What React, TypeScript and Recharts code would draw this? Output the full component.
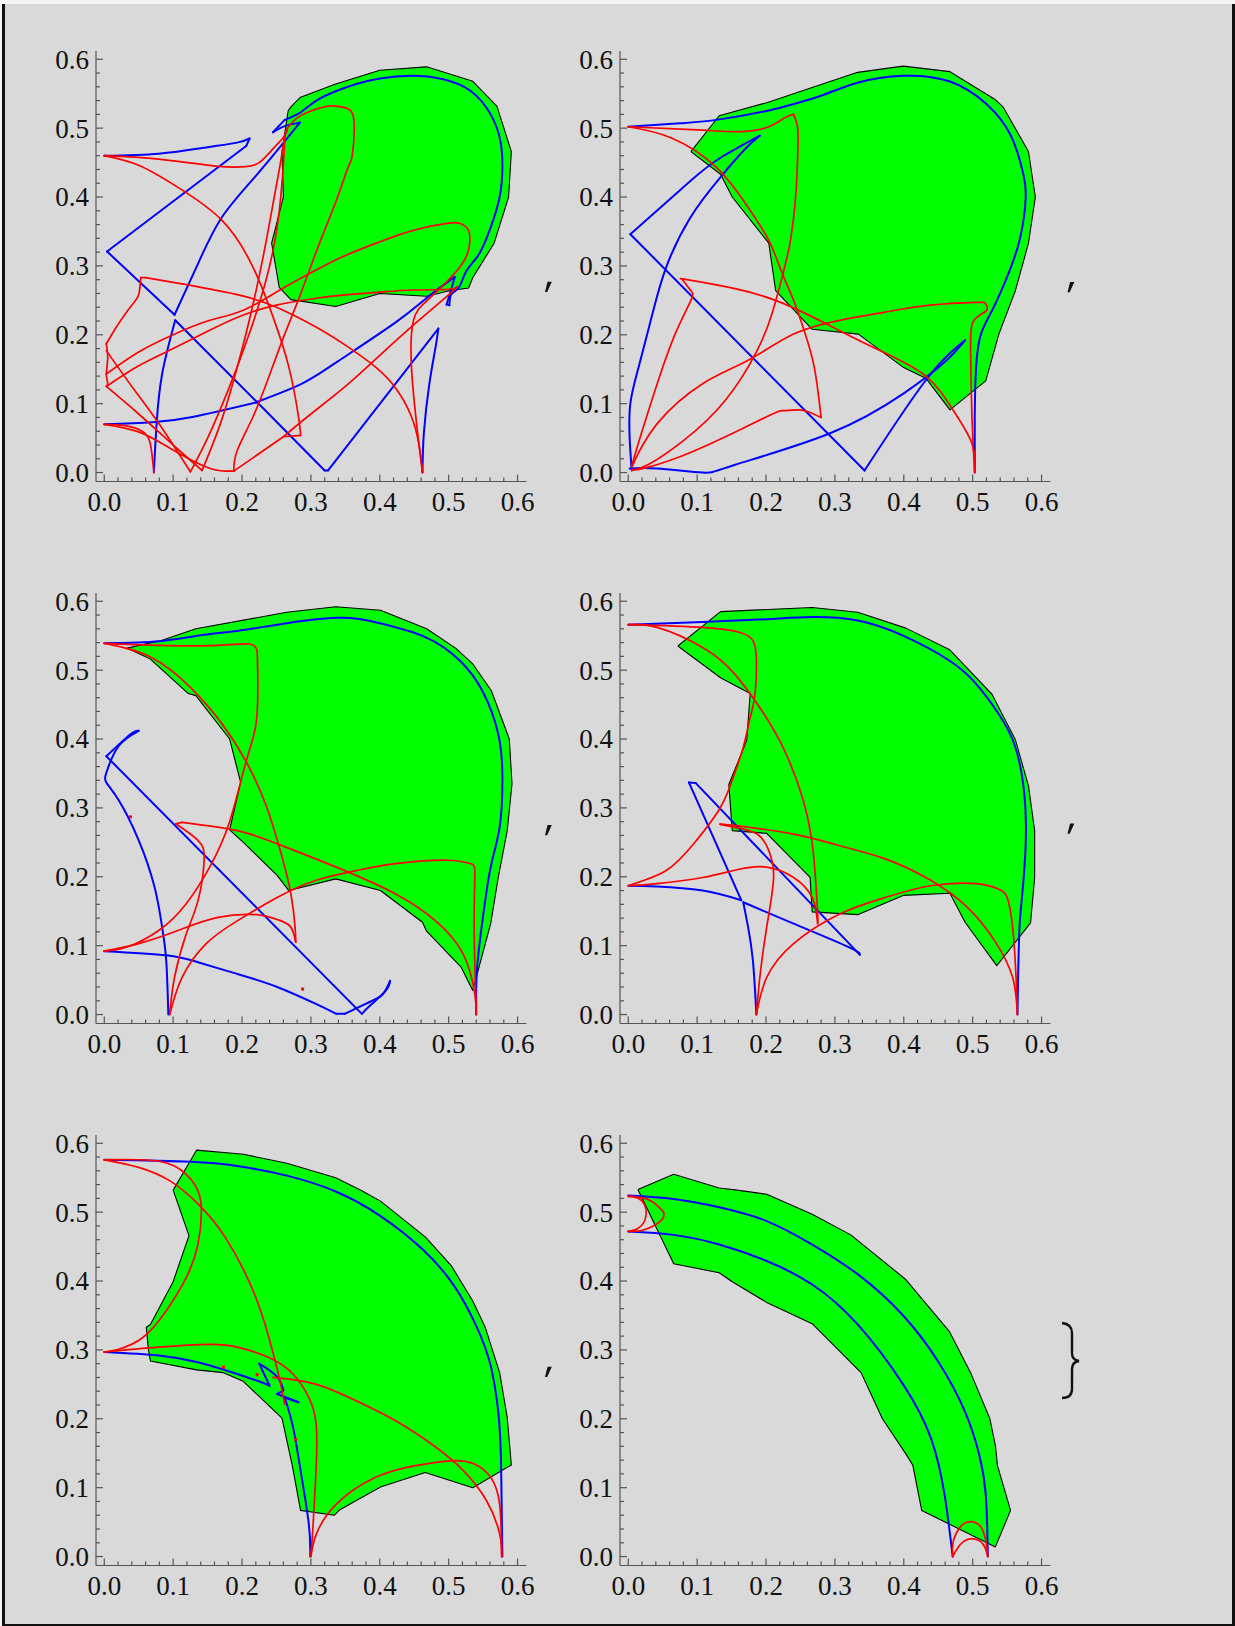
import { ScatterChart, Scatter, XAxis, YAxis } from 'recharts'

type Pt = [number, number]

// tick values (frame ticks every 0.02, labels every 0.1)
const ALL_TICKS = [
    0, 0.02, 0.04, 0.06, 0.08, 0.1, 0.12, 0.14, 0.16, 0.18, 0.2, 0.22, 0.24, 0.26, 0.28, 0.3,
    0.32, 0.34, 0.36, 0.38, 0.4, 0.42, 0.44, 0.46, 0.48, 0.5, 0.52, 0.54, 0.56, 0.58, 0.6
]
const X_DOMAIN: [number, number] = [-0.012, 0.613]
const Y_DOMAIN: [number, number] = [-0.013, 0.612]

// ---- panel 1 ----
const P1_REGION: Pt[] = [
    [0.271, 0.531], [0.285, 0.545], [0.336, 0.564], [0.4, 0.584], [0.468, 0.589], [0.535, 0.568], [0.57, 0.532],
    [0.591, 0.466], [0.587, 0.4], [0.566, 0.333], [0.535, 0.283], [0.529, 0.268], [0.501, 0.264], [0.468, 0.256],
    [0.4, 0.26], [0.336, 0.241], [0.271, 0.251], [0.254, 0.269], [0.243, 0.333], [0.26, 0.4], [0.258, 0.466],
    [0.267, 0.525], [0.271, 0.531]
]
const P1_BLUE: Pt[][] = [
    [[0, 0.46], [0.079, 0.463], [0.148, 0.472], [0.193, 0.479], [0.211, 0.485]],
    [[0.211, 0.485], [0.206, 0.474]],
    [[0.206, 0.474], [0.004, 0.321]],
    [[0.004, 0.321], [0.102, 0.229]],
    [[0.102, 0.229], [0.136, 0.303], [0.171, 0.371], [0.222, 0.433], [0.284, 0.508]],
    [[0.284, 0.508], [0.262, 0.503], [0.245, 0.494]],
    [[0.245, 0.494], [0.262, 0.512]],
    [[0.262, 0.512], [0.285, 0.523], [0.308, 0.54], [0.337, 0.554], [0.366, 0.564], [0.4, 0.572], [0.446, 0.576],
        [0.492, 0.571], [0.532, 0.554], [0.561, 0.52], [0.575, 0.482], [0.578, 0.443], [0.574, 0.4], [0.561, 0.356],
        [0.544, 0.317], [0.526, 0.293], [0.515, 0.269], [0.504, 0.259], [0.501, 0.243]],
    [[0.501, 0.243], [0.497, 0.244]],
    [[0.497, 0.244], [0.509, 0.284]],
    [[0.509, 0.284], [0.47, 0.255], [0.423, 0.218], [0.337, 0.16], [0.285, 0.128], [0.231, 0.106], [0.222, 0.102]],
    [[0.222, 0.102], [0.13, 0.081], [0.07, 0.073], [0, 0.07]],
    [[0.072, 0], [0.076, 0.071], [0.084, 0.143], [0.103, 0.221]],
    [[0.103, 0.221], [0.222, 0.102]],
    [[0.222, 0.102], [0.32, 0.003]],
    [[0.32, 0.003], [0.325, 0.003]],
    [[0.325, 0.003], [0.485, 0.209]],
    [[0.485, 0.209], [0.481, 0.182], [0.472, 0.129], [0.464, 0.057], [0.462, 0]]
]
const P1_RED: Pt[][] = [
    [[0, 0.46], [0.079, 0.455], [0.162, 0.445], [0.205, 0.444], [0.225, 0.45], [0.245, 0.47], [0.262, 0.489], [0.266, 0.5]],
    [[0, 0.46], [0.05, 0.446], [0.107, 0.414], [0.171, 0.366], [0.216, 0.298], [0.245, 0.226], [0.268, 0.153],
        [0.282, 0.081], [0.285, 0.054]],
    [[0.285, 0.054], [0.26, 0.052]],
    [[0.26, 0.052], [0.188, 0.002]],
    [[0.188, 0.002], [0.176, 0.002]],
    [[0.176, 0.002], [0.148, 0.008], [0.096, 0.035], [0.05, 0.059], [0, 0.07]],
    [[0, 0.07], [0.03, 0.068], [0.055, 0.06], [0.066, 0.045], [0.07, 0.02], [0.072, 0]],
    [[0.003, 0.187], [0.02, 0.215], [0.04, 0.243], [0.05, 0.258], [0.053, 0.283]],
    [[0.053, 0.283], [0.06, 0.283]],
    [[0.06, 0.283], [0.1, 0.276], [0.19, 0.259], [0.25, 0.24], [0.308, 0.211], [0.35, 0.185], [0.394, 0.153],
        [0.425, 0.12], [0.446, 0.081], [0.457, 0.04], [0.462, 0]],
    [[0.003, 0.125], [0.05, 0.155], [0.1, 0.18], [0.15, 0.205], [0.2, 0.228], [0.25, 0.243], [0.3, 0.252],
        [0.35, 0.258], [0.4, 0.262], [0.45, 0.265], [0.5, 0.266], [0.512, 0.27]],
    [[0.003, 0.143], [0.05, 0.175], [0.1, 0.2], [0.15, 0.22], [0.2, 0.235], [0.25, 0.262], [0.3, 0.29],
        [0.35, 0.315], [0.4, 0.335], [0.45, 0.352], [0.5, 0.362], [0.515, 0.362], [0.529, 0.351], [0.527, 0.317],
        [0.504, 0.284], [0.469, 0.25], [0.449, 0.221], [0.446, 0.153], [0.455, 0.057], [0.462, 0]],
    [[0.125, 0.001], [0.15, 0.05], [0.18, 0.12], [0.21, 0.2], [0.235, 0.28], [0.25, 0.35], [0.258, 0.42],
        [0.262, 0.48], [0.266, 0.5], [0.28, 0.515], [0.3, 0.525], [0.325, 0.532], [0.343, 0.531], [0.358, 0.525],
        [0.363, 0.5], [0.36, 0.46], [0.354, 0.443], [0.337, 0.395], [0.314, 0.337], [0.285, 0.259], [0.262, 0.201],
        [0.239, 0.139], [0.216, 0.081], [0.193, 0.032], [0.188, 0.002]],
    [[0.142, 0.003], [0.17, 0.075], [0.195, 0.16], [0.215, 0.24], [0.232, 0.32], [0.245, 0.39], [0.255, 0.445], [0.262, 0.49]],
    [[0.003, 0.187], [0.005, 0.165], [0.003, 0.143], [0.005, 0.13], [0.003, 0.125]],
    [[0.003, 0.125], [0.05, 0.085], [0.1, 0.04], [0.142, 0.003]],
    [[0.003, 0.177], [0.04, 0.125], [0.08, 0.07], [0.125, 0.001]],
    [[0.26, 0.052], [0.3, 0.085], [0.35, 0.125], [0.4, 0.17], [0.45, 0.215], [0.5, 0.258], [0.512, 0.27]]
]

// ---- panel 2 ----
const P2_REGION: Pt[] = [
    [0.091, 0.466], [0.132, 0.518], [0.201, 0.537], [0.267, 0.559], [0.333, 0.581], [0.399, 0.59], [0.467, 0.582],
    [0.532, 0.542], [0.544, 0.531], [0.581, 0.466], [0.591, 0.4], [0.581, 0.333], [0.562, 0.264], [0.538, 0.201],
    [0.519, 0.133], [0.467, 0.091], [0.432, 0.137], [0.399, 0.153], [0.334, 0.201], [0.267, 0.208], [0.214, 0.264],
    [0.204, 0.333], [0.151, 0.4], [0.134, 0.433], [0.091, 0.466]
]
const P2_BLUE: Pt[][] = [
    [[0, 0.502], [0.075, 0.507], [0.128, 0.512], [0.201, 0.525], [0.24, 0.535], [0.28, 0.547], [0.333, 0.566],
        [0.399, 0.576], [0.466, 0.568], [0.52, 0.535], [0.555, 0.49], [0.572, 0.44], [0.577, 0.4], [0.568, 0.337],
        [0.548, 0.279], [0.528, 0.235], [0.512, 0.201], [0.505, 0.153], [0.503, 0.081], [0.503, 0]],
    [[0.005, 0.003], [0.002, 0.05], [0.003, 0.1], [0.015, 0.153], [0.035, 0.23], [0.055, 0.298], [0.09, 0.37],
        [0.134, 0.429], [0.17, 0.47], [0.191, 0.489]],
    [[0.191, 0.489], [0.134, 0.457], [0.091, 0.424], [0.003, 0.346]],
    [[0.003, 0.346], [0.343, 0.003]],
    [[0.343, 0.003], [0.432, 0.134], [0.489, 0.192]],
    [[0.489, 0.192], [0.459, 0.16], [0.4, 0.115], [0.293, 0.057], [0.154, 0.011], [0.108, 0], [0.042, 0.006], [0.002, 0.006]]
]
const P2_RED: Pt[][] = [
    [[0, 0.502], [0.108, 0.497], [0.161, 0.495], [0.201, 0.501], [0.227, 0.515], [0.24, 0.52]],
    [[0.24, 0.52], [0.246, 0.5], [0.246, 0.46], [0.243, 0.4], [0.236, 0.34], [0.227, 0.298], [0.21, 0.235],
        [0.187, 0.177], [0.141, 0.105], [0.081, 0.047], [0.03, 0.012], [0.005, 0.003]],
    [[0, 0.502], [0.062, 0.486], [0.128, 0.443], [0.174, 0.385], [0.204, 0.337], [0.224, 0.288], [0.24, 0.25],
        [0.257, 0.201], [0.27, 0.153], [0.277, 0.105], [0.28, 0.08]],
    [[0.28, 0.08], [0.262, 0.088], [0.247, 0.091], [0.225, 0.09], [0.207, 0.084], [0.141, 0.052], [0.075, 0.023],
        [0.022, 0.006], [0.005, 0.004]],
    [[0.005, 0.01], [0.02, 0.06], [0.042, 0.129], [0.068, 0.201], [0.091, 0.25], [0.091, 0.264], [0.078, 0.281]],
    [[0.078, 0.281], [0.085, 0.28], [0.15, 0.268], [0.224, 0.246], [0.307, 0.206], [0.37, 0.175], [0.432, 0.14],
        [0.472, 0.09], [0.499, 0.042], [0.503, 0]],
    [[0.005, 0.008], [0.042, 0.071], [0.108, 0.129], [0.174, 0.163], [0.24, 0.201], [0.307, 0.221], [0.373, 0.233],
        [0.439, 0.243], [0.505, 0.247], [0.519, 0.245], [0.52, 0.235], [0.502, 0.221], [0.497, 0.177], [0.499, 0.081],
        [0.503, 0]]
]

// ---- panel 3 ----
const P3_REGION: Pt[] = [
    [0.033, 0.532], [0.067, 0.516], [0.122, 0.466], [0.133, 0.463], [0.182, 0.4], [0.198, 0.337], [0.182, 0.268],
    [0.202, 0.25], [0.251, 0.202], [0.268, 0.18], [0.336, 0.197], [0.401, 0.18], [0.462, 0.134], [0.468, 0.121],
    [0.518, 0.069], [0.535, 0.035], [0.561, 0.132], [0.572, 0.199], [0.585, 0.267], [0.592, 0.335], [0.588, 0.4],
    [0.562, 0.47], [0.535, 0.509], [0.51, 0.532], [0.468, 0.56], [0.401, 0.587], [0.336, 0.592], [0.265, 0.584],
    [0.133, 0.56], [0.083, 0.543], [0.033, 0.532]
]
const P3_BLUE: Pt[][] = [
    [[0, 0.539], [0.079, 0.542], [0.136, 0.55], [0.193, 0.557], [0.251, 0.566], [0.337, 0.576], [0.4, 0.568],
        [0.466, 0.548], [0.516, 0.514], [0.55, 0.468], [0.572, 0.407], [0.578, 0.345], [0.574, 0.272], [0.561, 0.214],
        [0.549, 0.136], [0.541, 0.064], [0.54, 0]],
    [[0.05, 0.412], [0.038, 0.407], [0.003, 0.375]],
    [[0.003, 0.375], [0.374, 0.001]],
    [[0.374, 0.001], [0.386, 0.013], [0.409, 0.035], [0.415, 0.049]],
    [[0.415, 0.049], [0.405, 0.03], [0.389, 0.02], [0.349, 0.001]],
    [[0.349, 0.001], [0.337, 0.001]],
    [[0.337, 0.001], [0.308, 0.015], [0.251, 0.04], [0.193, 0.059], [0.136, 0.076], [0.09, 0.086], [0, 0.092]],
    [[0.05, 0.412], [0.021, 0.39], [0.004, 0.354], [0.003, 0.337], [0.021, 0.311], [0.05, 0.253], [0.073, 0.185],
        [0.084, 0.127], [0.09, 0.078], [0.093, 0]]
]
const P3_RED: Pt[][] = [
    [[0, 0.539], [0.079, 0.536], [0.165, 0.536], [0.211, 0.538], [0.222, 0.528]],
    [[0.222, 0.528], [0.223, 0.48], [0.22, 0.42], [0.205, 0.364], [0.182, 0.28], [0.153, 0.214], [0.119, 0.161],
        [0.079, 0.122], [0.033, 0.098], [0, 0.092]],
    [[0, 0.539], [0.067, 0.519], [0.125, 0.475], [0.171, 0.422], [0.205, 0.369], [0.234, 0.306], [0.257, 0.233],
        [0.271, 0.175], [0.277, 0.127], [0.278, 0.105]],
    [[0.278, 0.105], [0.27, 0.128], [0.251, 0.138], [0.222, 0.145], [0.165, 0.141], [0.107, 0.122], [0.05, 0.103], [0, 0.092]],
    [[0.095, 0], [0.102, 0.054], [0.119, 0.117], [0.136, 0.165], [0.145, 0.224], [0.136, 0.253], [0.104, 0.277]],
    [[0.104, 0.277], [0.113, 0.279]],
    [[0.113, 0.279], [0.193, 0.267], [0.251, 0.248], [0.337, 0.214], [0.423, 0.175], [0.481, 0.136], [0.521, 0.088],
        [0.538, 0.03], [0.54, 0]],
    [[0.095, 0], [0.113, 0.054], [0.148, 0.103], [0.193, 0.136], [0.251, 0.17], [0.308, 0.195], [0.366, 0.209],
        [0.423, 0.219], [0.498, 0.224], [0.532, 0.219], [0.538, 0.204], [0.537, 0.127], [0.54, 0]]
]
const P3_DOTS: Pt[] = [[0.038, 0.287], [0.288, 0.037]]

// ---- panel 4 ----
const P4_REGION: Pt[] = [
    [0.072, 0.535], [0.134, 0.585], [0.267, 0.591], [0.333, 0.584], [0.403, 0.561], [0.466, 0.53], [0.528, 0.465],
    [0.562, 0.399], [0.581, 0.332], [0.59, 0.267], [0.59, 0.199], [0.584, 0.133], [0.535, 0.071], [0.489, 0.134],
    [0.467, 0.176], [0.399, 0.173], [0.333, 0.145], [0.267, 0.149], [0.264, 0.199], [0.201, 0.263], [0.151, 0.267],
    [0.146, 0.334], [0.172, 0.398], [0.177, 0.466], [0.134, 0.489], [0.072, 0.535]
]
const P4_BLUE: Pt[][] = [
    [[0, 0.566], [0.108, 0.57], [0.201, 0.574], [0.267, 0.577], [0.333, 0.572], [0.399, 0.55], [0.466, 0.514],
        [0.505, 0.48], [0.538, 0.436], [0.562, 0.388], [0.575, 0.32], [0.577, 0.248], [0.572, 0.175], [0.568, 0.127],
        [0.566, 0.054], [0.565, 0]],
    [[0, 0.187], [0.042, 0.186], [0.108, 0.18], [0.164, 0.166]],
    [[0.164, 0.166], [0.088, 0.337]],
    [[0.088, 0.337], [0.098, 0.336]],
    [[0.098, 0.336], [0.336, 0.087]],
    [[0.336, 0.087], [0.32, 0.098], [0.24, 0.132], [0.167, 0.163]],
    [[0.167, 0.163], [0.174, 0.127], [0.181, 0.078], [0.186, 0]]
]
const P4_RED: Pt[][] = [
    [[0, 0.566], [0.108, 0.562], [0.161, 0.555], [0.181, 0.543], [0.186, 0.514], [0.184, 0.465], [0.177, 0.431],
        [0.167, 0.388], [0.154, 0.349], [0.134, 0.301], [0.095, 0.248], [0.055, 0.209], [0, 0.187]],
    [[0, 0.566], [0.042, 0.562], [0.108, 0.533], [0.154, 0.495], [0.194, 0.441], [0.227, 0.383], [0.254, 0.311],
        [0.267, 0.248], [0.272, 0.195], [0.275, 0.146], [0.275, 0.132]],
    [[0.275, 0.132], [0.267, 0.17], [0.24, 0.199], [0.201, 0.214], [0.161, 0.211], [0.108, 0.199], [0.042, 0.19], [0, 0.187]],
    [[0.186, 0], [0.191, 0.054], [0.201, 0.127], [0.211, 0.199], [0.204, 0.238], [0.187, 0.262], [0.154, 0.272], [0.134, 0.276]],
    [[0.134, 0.276], [0.15, 0.275], [0.24, 0.262], [0.307, 0.245], [0.373, 0.226], [0.439, 0.195], [0.492, 0.156],
        [0.532, 0.107], [0.558, 0.054], [0.565, 0]],
    [[0.186, 0], [0.201, 0.054], [0.24, 0.103], [0.307, 0.146], [0.373, 0.17], [0.439, 0.187], [0.505, 0.19],
        [0.538, 0.182], [0.55, 0.17], [0.558, 0.127], [0.563, 0.054], [0.565, 0]]
]

// ---- panel 5 ----
const P5_REGION: Pt[] = [
    [0.1, 0.532], [0.134, 0.59], [0.202, 0.584], [0.265, 0.571], [0.336, 0.55], [0.374, 0.531], [0.401, 0.516],
    [0.466, 0.464], [0.504, 0.422], [0.535, 0.371], [0.553, 0.333], [0.574, 0.267], [0.585, 0.202], [0.591, 0.133],
    [0.535, 0.1], [0.466, 0.122], [0.401, 0.101], [0.342, 0.068], [0.334, 0.06], [0.285, 0.067], [0.273, 0.132],
    [0.258, 0.201], [0.201, 0.255], [0.173, 0.267], [0.134, 0.271], [0.067, 0.284], [0.064, 0.301], [0.061, 0.333],
    [0.067, 0.337], [0.1, 0.399], [0.123, 0.466], [0.1, 0.532]
]
const P5_BLUE: Pt[][] = [
    [[0, 0.576], [0.125, 0.573], [0.193, 0.567], [0.265, 0.553], [0.336, 0.53], [0.4, 0.495], [0.462, 0.446],
        [0.508, 0.393], [0.54, 0.335], [0.561, 0.277], [0.572, 0.21], [0.576, 0.139], [0.578, 0]],
    [[0, 0.297], [0.079, 0.292], [0.136, 0.282], [0.193, 0.265], [0.228, 0.253], [0.24, 0.248]],
    [[0.24, 0.248], [0.225, 0.28]],
    [[0.225, 0.28], [0.251, 0.261], [0.26, 0.241]],
    [[0.26, 0.241], [0.251, 0.236]],
    [[0.251, 0.236], [0.282, 0.224]],
    [[0.282, 0.224], [0.262, 0.231]],
    [[0.262, 0.231], [0.274, 0.188], [0.285, 0.125], [0.297, 0.047], [0.299, 0]]
]
const P5_RED: Pt[][] = [
    [[0, 0.576], [0.079, 0.574], [0.119, 0.555], [0.136, 0.531], [0.141, 0.502], [0.136, 0.453], [0.119, 0.405],
        [0.09, 0.357], [0.056, 0.318], [0.021, 0.301], [0, 0.297]],
    [[0, 0.576], [0.05, 0.565], [0.096, 0.545], [0.136, 0.512], [0.176, 0.463], [0.216, 0.386], [0.239, 0.318],
        [0.254, 0.26], [0.262, 0.221]],
    [[0, 0.297], [0.079, 0.304], [0.153, 0.308], [0.193, 0.304], [0.239, 0.289], [0.274, 0.265], [0.297, 0.231],
        [0.308, 0.188], [0.307, 0.115], [0.303, 0.043], [0.3, 0]],
    [[0.245, 0.26], [0.308, 0.25], [0.366, 0.226], [0.423, 0.197], [0.481, 0.159], [0.521, 0.125], [0.555, 0.081],
        [0.574, 0.033], [0.577, 0]],
    [[0.3, 0], [0.308, 0.033], [0.337, 0.076], [0.394, 0.115], [0.452, 0.132], [0.504, 0.139], [0.538, 0.134],
        [0.561, 0.115], [0.574, 0.076], [0.577, 0]]
]
const P5_DOTS: Pt[] = [[0.173, 0.275], [0.222, 0.264], [0.278, 0.17]]

// ---- panel 6 ----
const P6_REGION: Pt[] = [
    [0.014, 0.533], [0.066, 0.555], [0.132, 0.535], [0.158, 0.532], [0.201, 0.526], [0.267, 0.497], [0.323, 0.467],
    [0.402, 0.403], [0.466, 0.327], [0.497, 0.267], [0.525, 0.2], [0.533, 0.161], [0.536, 0.132], [0.555, 0.067],
    [0.533, 0.014], [0.426, 0.067], [0.413, 0.133], [0.403, 0.149], [0.369, 0.2], [0.338, 0.267], [0.267, 0.338],
    [0.201, 0.369], [0.151, 0.399], [0.132, 0.412], [0.066, 0.425], [0.014, 0.533]
]
const P6_BLUE: Pt[][] = [
    [[0, 0.524], [0.066, 0.519], [0.132, 0.507], [0.201, 0.487], [0.267, 0.453], [0.333, 0.41], [0.399, 0.35],
        [0.452, 0.28], [0.489, 0.21], [0.509, 0.15], [0.519, 0.09], [0.522, 0]],
    [[0, 0.472], [0.066, 0.467], [0.132, 0.453], [0.201, 0.429], [0.267, 0.395], [0.333, 0.337], [0.399, 0.25],
        [0.439, 0.173], [0.459, 0.091], [0.471, 0]]
]
const P6_RED: Pt[][] = [
    [[0, 0.523], [0.015, 0.52], [0.024, 0.51], [0.026, 0.497], [0.022, 0.484], [0.012, 0.475], [0, 0.472]],
    [[0, 0.523], [0.02, 0.521], [0.035, 0.515], [0.048, 0.504], [0.052, 0.497], [0.048, 0.488], [0.035, 0.479],
        [0.018, 0.473], [0, 0.472]],
    [[0.471, 0], [0.472, 0.023], [0.482, 0.043], [0.492, 0.05], [0.502, 0.05], [0.512, 0.043], [0.519, 0.023], [0.522, 0]],
    [[0.471, 0], [0.478, 0.012], [0.487, 0.022], [0.499, 0.026], [0.511, 0.022], [0.518, 0.013], [0.522, 0]]
]

interface PanelData {
    region: Pt[]
    blue: Pt[][]
    red: Pt[][]
    dots?: Pt[]
}

const PANELS: PanelData[] = [
    { region: P1_REGION, blue: P1_BLUE, red: P1_RED },
    { region: P2_REGION, blue: P2_BLUE, red: P2_RED },
    { region: P3_REGION, blue: P3_BLUE, red: P3_RED, dots: P3_DOTS },
    { region: P4_REGION, blue: P4_BLUE, red: P4_RED },
    { region: P5_REGION, blue: P5_BLUE, red: P5_RED, dots: P5_DOTS },
    { region: P6_REGION, blue: P6_BLUE, red: P6_RED }
]

// layout (frame top-left corner of each panel, page pixels)
const FRAME_POS = [
    { left: 95.8, top: 50.8 },
    { left: 619.6, top: 50.8 },
    { left: 95.8, top: 592.5 },
    { left: 619.6, top: 592.5 },
    { left: 95.8, top: 1134.5 },
    { left: 619.6, top: 1134.5 }
]
const COMMA_POS = [
    { x: 545, y: 281.7 },
    { x: 1067.5, y: 282 },
    { x: 545, y: 825 },
    { x: 1067.5, y: 823.5 },
    { x: 545, y: 1366.7 }
]

const PLOT = 430.5
const AXIS_W = 60
const AXIS_H = 45
const PAD = 10
const GREEN = '#00ff00'
const BLUE = '#0000ff'
const RED = '#ff0000'
const FRAME = '#555555'
const LABEL_STYLE = { fontFamily: '"Liberation Serif", "DejaVu Serif", serif', fontSize: 27, fill: '#111' }

const toRows = (pts: Pt[]) => pts.map(([x, y]) => ({ x, y }))
const isMajor = (v: number) => Math.abs(v * 10 - Math.round(v * 10)) < 1e-6
const noDot = () => <g />

function BottomTick(props: any) {
    const { x, y, payload } = props
    const major = isMajor(payload.value)
    return (
        <g>
            <line x1={x} x2={x} y1={y} y2={y - (major ? 7 : 4)} stroke={FRAME} strokeWidth={1.2} />
            {major && (
                <text x={x} y={y + 29.3} textAnchor="middle" style={LABEL_STYLE}>
                    {payload.value.toFixed(1)}
                </text>
            )}
        </g>
    )
}

function TopTick(props: any) {
    const { x, y, payload } = props
    const major = isMajor(payload.value)
    return <line x1={x} x2={x} y1={y} y2={y + (major ? 7 : 4)} stroke={FRAME} strokeWidth={1.2} />
}

function LeftTick(props: any) {
    const { x, y, payload } = props
    const major = isMajor(payload.value)
    return (
        <g>
            <line x1={x} x2={x + (major ? 7 : 4)} y1={y} y2={y} stroke={FRAME} strokeWidth={1.2} />
            {major && (
                <text x={x - 7} y={y + 9.4} textAnchor="end" style={LABEL_STYLE}>
                    {payload.value.toFixed(1)}
                </text>
            )}
        </g>
    )
}

function RightTick(props: any) {
    const { x, y, payload } = props
    const major = isMajor(payload.value)
    return <line x1={x} x2={x - (major ? 7 : 4)} y1={y} y2={y} stroke={FRAME} strokeWidth={1.2} />
}

function RegionPanel({ data }: { data: PanelData }) {
    const axisLine = { stroke: FRAME, strokeWidth: 1.2 }
    return (
        <ScatterChart
            width={AXIS_W + PLOT + PAD}
            height={PAD + PLOT + AXIS_H}
            margin={{ top: PAD, right: PAD, bottom: 0, left: 0 }}
        >
            <XAxis xAxisId="b" type="number" dataKey="x" domain={X_DOMAIN} allowDataOverflow ticks={ALL_TICKS}
                interval={0} height={AXIS_H} tickSize={0} tickMargin={0} tickLine={false} axisLine={axisLine}
                tick={<BottomTick />} />
            <XAxis xAxisId="t" orientation="top" type="number" dataKey="x" domain={X_DOMAIN} allowDataOverflow
                ticks={ALL_TICKS} interval={0} height={0} tickSize={0} tickMargin={0} tickLine={false}
                axisLine={axisLine} tick={<TopTick />} />
            <YAxis yAxisId="l" type="number" dataKey="y" domain={Y_DOMAIN} allowDataOverflow ticks={ALL_TICKS}
                interval={0} width={AXIS_W} tickSize={0} tickMargin={0} tickLine={false} axisLine={axisLine}
                tick={<LeftTick />} />
            <YAxis yAxisId="r" orientation="right" type="number" dataKey="y" domain={Y_DOMAIN} allowDataOverflow
                ticks={ALL_TICKS} interval={0} width={0} tickSize={0} tickMargin={0} tickLine={false}
                axisLine={axisLine} tick={<RightTick />} />
            <Scatter xAxisId="b" yAxisId="l" data={toRows(data.region)} shape={noDot} isAnimationActive={false}
                line={{ fill: GREEN, stroke: '#000', strokeWidth: 1.1, strokeLinejoin: 'round' }} />
            {data.blue.map((pts, i) => (
                <Scatter key={`b${i}`} xAxisId="b" yAxisId="l" data={toRows(pts)} shape={noDot}
                    isAnimationActive={false} lineJointType="natural"
                    line={{ fill: 'none', stroke: BLUE, strokeWidth: 2, strokeLinejoin: 'round', strokeLinecap: 'round' }} />
            ))}
            {data.red.map((pts, i) => (
                <Scatter key={`r${i}`} xAxisId="b" yAxisId="l" data={toRows(pts)} shape={noDot}
                    isAnimationActive={false} lineJointType="natural"
                    line={{ fill: 'none', stroke: RED, strokeWidth: 1.7, strokeLinejoin: 'round', strokeLinecap: 'round' }} />
            ))}
            {data.dots && (
                <Scatter xAxisId="b" yAxisId="l" data={toRows(data.dots)} fill={RED} isAnimationActive={false}
                    shape={(p: any) => <rect x={p.cx - 1.5} y={p.cy - 1.5} width={3} height={3} fill={RED} />} />
            )}
        </ScatterChart>
    )
}

export default function App() {
    return (
        <div style={{ position: 'absolute', left: 0, top: 0, width: 1235, height: 1626, background: '#f4f4f4', overflow: 'hidden' }}>
            <div
                style={{
                    position: 'absolute', left: 2, top: 4, width: 1227, height: 1620, background: '#d9d9d9',
                    borderLeft: '3px solid #111', borderRight: '3px solid #111', borderBottom: '2px solid #111'
                }}
            />
            {PANELS.map((p, i) => (
                <div key={i} style={{ position: 'absolute', left: FRAME_POS[i].left - AXIS_W, top: FRAME_POS[i].top - PAD }}>
                    <RegionPanel data={p} />
                </div>
            ))}
            <svg width={1235} height={1626} style={{ position: 'absolute', left: 0, top: 0, pointerEvents: 'none' }}>
                {COMMA_POS.map((c, i) => (
                    <polygon key={i} fill="#111"
                        points={`${c.x + 2.6},${c.y} ${c.x + 6.8},${c.y} ${c.x + 2.2},${c.y + 10.3} ${c.x},${c.y + 10.3}`} />
                ))}
                <path d="M1062,1323 Q1072,1324 1072,1333 L1072,1353 Q1072,1360 1079,1361 Q1072,1362 1072,1369 L1072,1389 Q1072,1398 1062,1398"
                    fill="none" stroke="#111" strokeWidth={2.4} />
            </svg>
        </div>
    )
}
